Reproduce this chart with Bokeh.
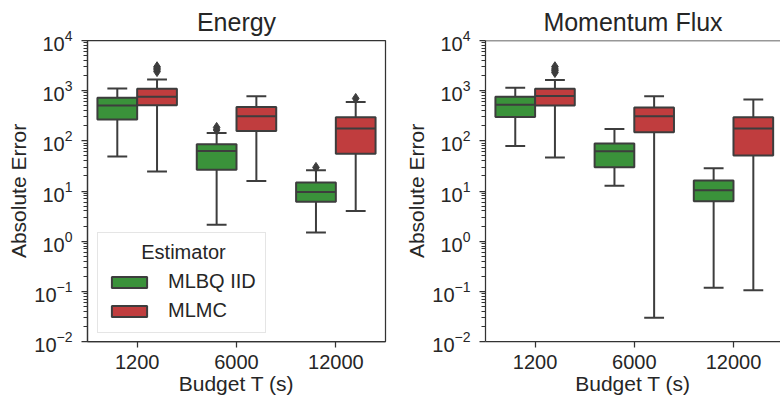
from bokeh.plotting import figure
from bokeh.layouts import row
from bokeh.models import (ColumnDataSource, Range1d, FixedTicker, Legend, LegendItem,
                          Label, Span)
from bokeh.embed import file_html
from bokeh.resources import INLINE

# ---------------- data ----------------
budgets = ["1200", "6000", "12000"]
estimators = ["MLBQ IID", "MLMC"]
colors = ["#3a923a", "#c03d3e"]

# Energy panel
energy_mlbq_low = [48.9, 2.13, 1.49]
energy_mlbq_q1 = [265, 26.4, 6.08]
energy_mlbq_med = [507, 63, 9.5]
energy_mlbq_q3 = [726, 85, 14.7]
energy_mlbq_high = [1104, 144, 26]
energy_mlbq_out = [[], [165, 185], [29.5]]

energy_mlmc_low = [24.5, 15.9, 4.0]
energy_mlmc_q1 = [514, 157, 55]
energy_mlmc_med = [760, 309, 177]
energy_mlmc_q3 = [1089, 470, 295]
energy_mlmc_high = [1679, 770, 597]
energy_mlmc_out = [[2400, 2600, 2800, 3000], [], [700]]

# Momentum flux panel
flux_mlbq_low = [79, 12.7, 0.118]
flux_mlbq_q1 = [300, 29.8, 6.26]
flux_mlbq_med = [521, 62, 10.4]
flux_mlbq_q3 = [760, 88, 16.1]
flux_mlbq_high = [1138, 172, 28.5]
flux_mlbq_out = [[], [], []]

flux_mlmc_low = [46.7, 0.0297, 0.105]
flux_mlmc_q1 = [507, 148, 51.2]
flux_mlmc_med = [782, 309, 177]
flux_mlmc_q3 = [1089, 462, 295]
flux_mlmc_high = [1630, 770, 664]
flux_mlmc_out = [[2300, 2500, 2700, 3000], [], []]

y_decades = [-2, -1, 0, 1, 2, 3, 4]

FONT = "Liberation Sans"
TXT = "#262626"
LINE = "#3d3d3d"
SPINE = "#333333"
BOX_W = 0.4
CAP_W = 0.2


def make_panel(title, stats, width, border_left, border_right, x_end, legend):
    p = figure(width=width, height=397, y_axis_type="log",
               x_range=Range1d(-0.5, x_end), y_range=Range1d(10.0 ** y_decades[0], 10.0 ** y_decades[-1]),
               output_backend="svg", toolbar_location=None,
               min_border_left=border_left, min_border_right=border_right,
               min_border_top=36, min_border_bottom=54)
    p.grid.visible = False
    p.background_fill_color = "white"
    p.border_fill_color = "white"

    p.title.text = title
    p.title.align = "center"
    p.title.text_font = FONT
    p.title.text_font_size = "25px"
    p.title.text_font_style = "normal"
    p.title.text_color = TXT

    items = []
    for k, name in enumerate(estimators):
        low, q1, med, q3, high, outs = stats[k]
        off = (k - 0.5) * BOX_W
        xs = [i + off for i in range(len(budgets))]
        src = ColumnDataSource(dict(
            x=xs, low=low, q1=q1, med=med, q3=q3, high=high,
            xl=[x - BOX_W / 2 for x in xs], xr=[x + BOX_W / 2 for x in xs],
            cl=[x - CAP_W / 2 for x in xs], cr=[x + CAP_W / 2 for x in xs]))
        p.segment(x0="x", y0="q3", x1="x", y1="high", source=src, line_color=LINE, line_width=2)
        p.segment(x0="x", y0="q1", x1="x", y1="low", source=src, line_color=LINE, line_width=2)
        p.segment(x0="cl", y0="high", x1="cr", y1="high", source=src, line_color=LINE, line_width=2)
        p.segment(x0="cl", y0="low", x1="cr", y1="low", source=src, line_color=LINE, line_width=2)
        r = p.vbar(x="x", width=BOX_W, bottom="q1", top="q3", source=src,
                   fill_color=colors[k], line_color=LINE, line_width=2)
        p.segment(x0="xl", y0="med", x1="xr", y1="med", source=src, line_color=LINE, line_width=2)
        ox, oy = [], []
        for i, vals in enumerate(outs):
            for v in vals:
                ox.append(xs[i])
                oy.append(v)
        if ox:
            p.scatter(x=ox, y=oy, marker="diamond", size=10, fill_color=LINE, line_color=LINE)
        items.append(LegendItem(label=name, renderers=[r]))

    # axes
    p.xaxis.ticker = FixedTicker(ticks=list(range(len(budgets))))
    p.xaxis.major_label_overrides = {i: b for i, b in enumerate(budgets)}
    p.xaxis.minor_tick_line_color = None
    p.xaxis.axis_label = "Budget T (s)"
    p.yaxis.axis_label = "Absolute Error"
    p.yaxis.ticker = FixedTicker(
        ticks=[10.0 ** e for e in y_decades],
        minor_ticks=[m * 10.0 ** e for e in y_decades[:-1] for m in range(2, 10)])
    for ax in (p.xaxis, p.yaxis):
        ax.axis_line_color = SPINE
        ax.axis_line_width = 1.25
        ax.major_tick_line_color = SPINE
        ax.major_tick_line_width = 1.25
        ax.major_tick_out = 6
        ax.major_tick_in = 0
        ax.major_label_text_font = FONT
        ax.major_label_text_font_size = "20px"
        ax.major_label_text_color = TXT
        ax.axis_label_text_font = FONT
        ax.axis_label_text_font_size = "21px"
        ax.axis_label_text_font_style = "normal"
        ax.axis_label_text_color = TXT
    p.xaxis.major_label_standoff = 7
    p.xaxis.axis_label_standoff = 0
    p.yaxis.major_label_standoff = 9
    p.yaxis.axis_label_standoff = 1
    p.yaxis.minor_tick_line_color = SPINE
    p.yaxis.minor_tick_line_width = 1
    p.yaxis.minor_tick_out = 4
    p.yaxis.minor_tick_in = 0

    p.outline_line_color = SPINE
    p.outline_line_width = 1.25

    if legend:
        leg = Legend(items=items, location=(10, 8), title=" ",
                     title_text_font=FONT, title_text_font_size="20px", title_standoff=4,
                     label_text_font=FONT, label_text_font_size="20px", label_text_color=TXT,
                     glyph_width=44, glyph_height=14, label_height=25, label_standoff=17,
                     spacing=4, padding=9, margin=0,
                     border_line_color="#cccccc", border_line_width=1,
                     background_fill_alpha=0)
        p.add_layout(leg)
        p.add_layout(Label(x=96, y=90, x_units="screen", y_units="screen", text="Estimator",
                           text_align="center", text_baseline="middle", level="overlay",
                           text_font=FONT, text_font_size="20px", text_color=TXT))
    return p


energy_stats = [
    (energy_mlbq_low, energy_mlbq_q1, energy_mlbq_med, energy_mlbq_q3, energy_mlbq_high, energy_mlbq_out),
    (energy_mlmc_low, energy_mlmc_q1, energy_mlmc_med, energy_mlmc_q3, energy_mlmc_high, energy_mlmc_out),
]
flux_stats = [
    (flux_mlbq_low, flux_mlbq_q1, flux_mlbq_med, flux_mlbq_q3, flux_mlbq_high, flux_mlbq_out),
    (flux_mlmc_low, flux_mlmc_q1, flux_mlmc_med, flux_mlmc_q3, flux_mlmc_high, flux_mlmc_out),
]

p1 = make_panel("Energy", energy_stats, 400, 87, 15, 2.5, True)
p2 = make_panel("Momentum Flux", flux_stats, 380, 85, 0, 2.474, False)
# right spine falls outside the visible area in the original: keep only the top line
p2.outline_line_color = None
p2.add_layout(Span(location=10.0 ** y_decades[-1], dimension="width", line_color=SPINE, line_width=1.25))

layout = row(p1, p2)
open("out.html", "w").write(file_html(layout, INLINE))
